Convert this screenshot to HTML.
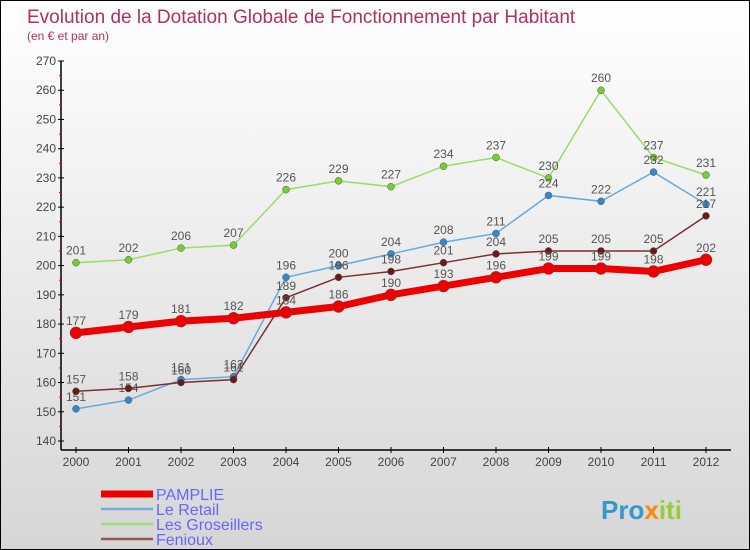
<!DOCTYPE html>
<html><head><meta charset="utf-8"><style>
body{margin:0}
#c{width:750px;height:550px;position:relative;box-sizing:border-box;border:1px solid #000;background:linear-gradient(#fff,#d6d6d6);font-family:"Liberation Sans",sans-serif;overflow:hidden}
</style></head><body>
<div id="c">
<svg id="s" width="750" height="550" style="position:absolute;left:0;top:0">
<text x="26" y="22" font-size="19" fill="#b03060">Evolution de la Dotation Globale de Fonctionnement par Habitant</text>
<text x="26" y="39" font-size="12" fill="#b03060">(en € et par an)</text>
<g id="g"></g>
<text x="600" y="518" font-size="26" font-weight="bold" fill="#3399cc">Pro<tspan fill="#ff8800">x</tspan><tspan fill="#99cc33">iti</tspan></text>
</svg>
</div>
<script>
const years=["2000","2001","2002","2003","2004","2005","2006","2007","2008","2009","2010","2011","2012"];
const yTicks=[140,150,160,170,180,190,200,210,220,230,240,250,260,270];
const pamplie=[177,179,181,182,184,186,190,193,196,199,199,198,202];
const leRetail=[151,154,161,162,196,200,204,208,211,224,222,232,221];
const groseillers=[201,202,206,207,226,229,227,234,237,230,260,237,231];
const fenioux=[157,158,160,161,189,196,198,201,204,205,205,205,217];
const seriesNames=["PAMPLIE","Le Retail","Les Groseillers","Fenioux"];
const ns="http://www.w3.org/2000/svg",g=document.getElementById("g");
const X=i=>75+i*52.5, Y=v=>60+(270-v)*380/130;
function mk(t,a,p){const e=document.createElementNS(ns,t);for(const k in a)e.setAttribute(k,a[k]);(p||g).appendChild(e);return e;}
let ax=mk("line",{x1:60,y1:60,x2:60,y2:449,stroke:"#000","stroke-width":1.5});


let bx=mk("line",{x1:60,y1:449,x2:730,y2:449,stroke:"#000","stroke-width":1.5});


yTicks.forEach(v=>{mk("line",{x1:57,y1:Y(v),x2:63,y2:Y(v),stroke:"#000"});
if(v<270)mk("line",{x1:58,y1:Y(v+5),x2:61,y2:Y(v+5),stroke:"#e00"});
const t=mk("text",{x:55,y:Y(v)+4,"text-anchor":"end","font-size":12,fill:"#444"});t.textContent=v;

});
years.forEach((y,i)=>{mk("line",{x1:X(i),y1:446,x2:X(i),y2:452,stroke:"#000"});
const t=mk("text",{x:X(i),y:465,"text-anchor":"middle","font-size":12,fill:"#444"});t.textContent=y;

});
function series(d,col,dot,w,r,name){
const p=mk("polyline",{points:d.map((v,i)=>X(i)+","+Y(v)).join(" "),fill:"none",stroke:col,"stroke-width":w});


d.forEach((v,i)=>{const c=mk("circle",{cx:X(i),cy:Y(v),r:r,fill:dot,stroke:"#555","stroke-width":0.5});


const t=mk("text",{x:X(i),y:Y(v)-8,"text-anchor":"middle","font-size":12,fill:"#555"});t.textContent=v;

});}
series(groseillers,"#99dd66","#77cc33",1.5,3.5,"groseillers");
series(leRetail,"#66aadd","#3388cc",1.5,3.5,"le-retail");
series(fenioux,"#7a3030","#6a1a1a",1.5,3.5,"fenioux");
series(pamplie,"#ee0000","#ee0000",7,6,"pamplie");
const lc=["#ee0000","#77aadd","#99dd77","#995555"],lw=[7,2.5,2.5,2.5];
seriesNames.forEach((n,i)=>{const y=493+i*15;
const l=mk("line",{x1:100,y1:y,x2:152,y2:y,stroke:lc[i],"stroke-width":lw[i]});


const t=mk("text",{x:155,y:y+6,"font-size":16,fill:"#6666ff"});t.textContent=n;

});
</script>
</body></html>
